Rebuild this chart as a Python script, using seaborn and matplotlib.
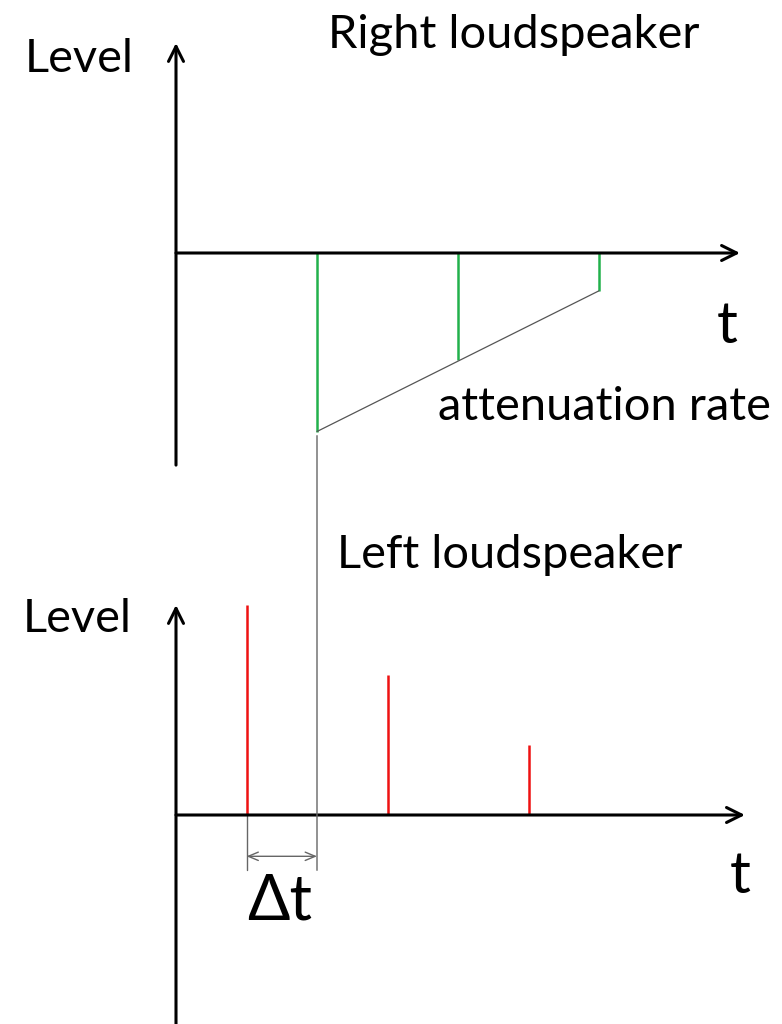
import numpy as np
import pandas as pd
import matplotlib.pyplot as plt
import seaborn as sns
from matplotlib.patches import ConnectionPatch

# 数据
t_right = [2, 4, 6]
level_right = [-2.55, -1.53, -0.54]
t_left = [1, 3, 5]
level_left = [3.0, 2.0, 1.0]
delta_t = 1

sns.set_theme(style='white')
plt.rcParams['font.family'] = ['Lato', 'DejaVu Sans']
plt.rcParams['text.color'] = 'black'

W, H = 782, 1024
fig = plt.figure(figsize=(W / 100, H / 100), dpi=100)

# 像素 -> 数据单位
px_t, px_l = 70.5, 70.0
x0 = 176

ax_r = fig.add_axes([0, 0.5, 1, 0.5])
ax_l = fig.add_axes([0, 0, 1, 0.5])
ax_r.set_xlim(-x0 / px_t, (W - x0) / px_t)
ax_r.set_ylim((253 - 512) / px_l, 253 / px_l)
ax_l.set_xlim(-x0 / px_t, (W - x0) / px_t)
ax_l.set_ylim((815 - 1024) / px_l, (815 - 512) / px_l)
for ax in (ax_r, ax_l):
    ax.axis('off')

arrow = dict(arrowstyle='->,head_length=0.9,head_width=0.45', lw=2.2, color='black',
             shrinkA=0, shrinkB=0)
ax_r.annotate('', xy=(0, 3.0), xytext=(0, -3.03), arrowprops=arrow)
ax_r.annotate('', xy=(8.0, 0), xytext=(0, 0), arrowprops=arrow)
ax_l.annotate('', xy=(0, 3.0), xytext=(0, -3.05), arrowprops=arrow, annotation_clip=False)
ax_l.annotate('', xy=(8.07, 0), xytext=(0, 0), arrowprops=arrow)

# 右扬声器
ax_r.vlines(t_right, 0, level_right, colors='#22b14c', lw=1.8)
sns.lineplot(x=[t_right[0], t_right[-1]], y=[level_right[0], level_right[-1]],
             ax=ax_r, color='#555555', lw=0.9)

# 左扬声器
ax_l.vlines(t_left, 0, level_left, colors='#ee1111', lw=1.8)

# Δt 标注
con = ConnectionPatch(xyA=(t_right[0], level_right[0] - 0.06), coordsA=ax_r.transData,
                      xyB=(t_right[0], -0.79), coordsB=ax_l.transData,
                      color='#666666', lw=1.0)
fig.add_artist(con)
ax_l.plot([t_left[0], t_left[0]], [0, -0.79], color='#666666', lw=1.0)
ax_l.annotate('', xy=(t_left[0], -0.59), xytext=(t_left[0] + delta_t, -0.59),
              arrowprops=dict(arrowstyle='<->,head_length=0.6,head_width=0.25',
                              color='#666666', lw=1.0, shrinkA=0, shrinkB=0))

fs = 33.8
ax_r.text(-2.14, 2.586, 'Level', fontsize=fs, va='baseline', ha='left')
ax_r.text(2.156, 2.93, 'Right loudspeaker', fontsize=fs, va='baseline', ha='left')
ax_r.text(7.67, -1.286, 't', fontsize=42, va='baseline', ha='left')
ax_r.text(3.716, -2.386, 'attenuation rate', fontsize=fs, va='baseline', ha='left')
ax_l.text(2.284, 3.53, 'Left loudspeaker', fontsize=fs, va='baseline', ha='left')
ax_l.text(-2.17, 2.61, 'Level', fontsize=fs, va='baseline', ha='left')
ax_l.text(7.86, -1.11, 't', fontsize=42, va='baseline', ha='left')
ax_l.text(1.475, -1.5, 'Δt', fontsize=45, va='baseline', ha='center')

plt.savefig('out.png', dpi=100)
